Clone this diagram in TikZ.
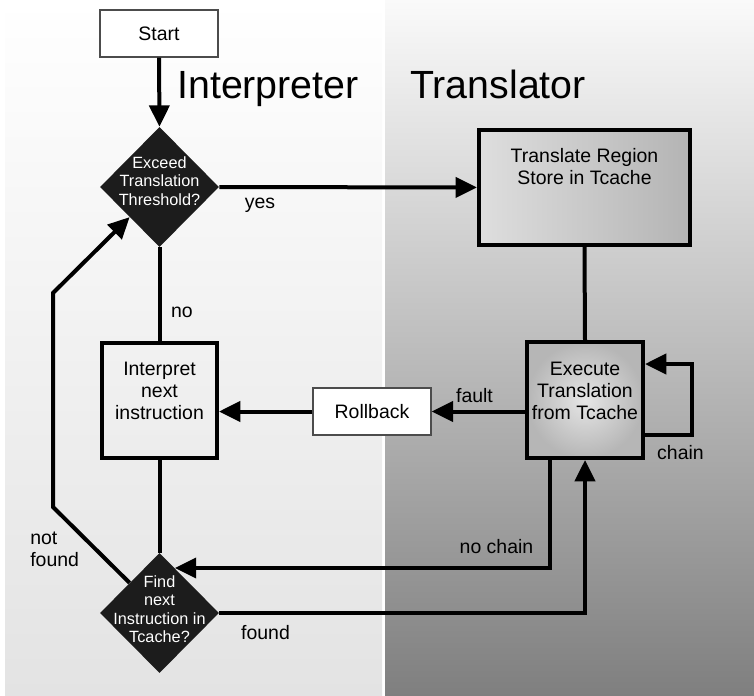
\documentclass[tikz,border=0pt]{standalone}
\usepackage{fontspec}
\setmainfont{Liberation Sans}
\usetikzlibrary{arrows.meta,shapes.geometric}
\definecolor{decfill}{HTML}{1C1C1C}
\definecolor{leftbot}{HTML}{E3E3E3}
\definecolor{righttop}{HTML}{FAFAFA}
\definecolor{rightbot}{HTML}{7F7F7F}
\begin{document}
\begin{tikzpicture}[x=0.75pt,y=-0.75pt,
  conn/.style={line width=3pt, line join=miter},
  arr/.style={conn, -{Triangle[length=16pt,width=15pt]}},
  lbl/.style={font=\fontsize{14.6}{16.5}\selectfont, inner sep=0pt},
  thinbox/.style={draw=black!70, line width=1pt, fill=white, minimum width=88.5pt,
    minimum height=35.25pt, inner sep=0pt, font=\fontsize{14.6}{16.5}\selectfont},
  heavybox/.style={draw=black, line width=3pt, inner sep=0pt},
  decision/.style={diamond, fill=decfill, minimum width=89.25pt, minimum height=90pt,
    inner sep=0pt},
  dtext/.style={text=white, align=center, font=\fontsize{12.2}{13.9}\selectfont, inner sep=0pt},
  btext/.style={align=center, font=\fontsize{14.6}{16.5}\selectfont, inner sep=0pt},
  title/.style={font=\fontsize{29.5}{32}\selectfont, inner sep=0pt, anchor=base west}]

\useasboundingbox (0,0) rectangle (754,696);

% two lanes
\shade[top color=white, bottom color=leftbot] (5,0) rectangle (382,696);
\shade[top color=righttop, bottom color=rightbot] (385,0) rectangle (754,696);

\node[title] (lanei) at (177,98) {Interpreter};
\node[title] (lanet) at (410,98) {Translator};

% nodes
\node[thinbox] (start) at (159,33.5) {Start};
\node[decision] (d1) at (159.5,187) {};
\node[dtext] (d1t) at (159.5,181) {Exceed\\Translation\\Threshold?};

\node[heavybox, minimum width=158.25pt, minimum height=86.25pt,
      left color={rgb,255:red,222;green,222;blue,222},
      right color={rgb,255:red,180;green,180;blue,180}] (tr) at (584.5,187.5) {};
\node[btext] (trt) at (584.5,167) {Translate Region\\Store in Tcache};

\node[heavybox, minimum width=87pt, minimum height=87pt,
      inner color={rgb,255:red,230;green,230;blue,230},
      outer color={rgb,255:red,182;green,182;blue,182}] (ex) at (585,400) {};
\node[btext] (ext) at (585,391) {Execute\\Translation\\from Tcache};

\node[thinbox] (rb) at (372,411.5) {Rollback};

\node[heavybox, minimum width=86.25pt, minimum height=86.25pt] (ip) at (159.5,400.5) {};
\node[btext] (ipt) at (159.5,391) {Interpret\\next\\instruction};

\node[decision] (d2) at (159.5,613) {};
\node[dtext] (d2t) at (159.5,609) {Find\\next\\Instruction in\\Tcache?};

% connectors
\draw[arr] (start.south) -- (d1.north);
\draw[arr] (d1.east) -- (tr.west);
\node[lbl] (yes) at (260,205) {yes};

\draw[conn] (tr.south) -- (ex.north);

\coordinate (ch1) at (692,435);
\coordinate (ch2) at (692,364);
\draw[arr] (ch1 -| ex.east) -- (ch1) -- (ch2) -- (ch2 -| ex.east);
\node[lbl] (chain) at (680.5,452.5) {chain};

\draw[arr] (ex.west |- rb.east) -- (rb.east);
\node[lbl] (fault) at (474.5,395.5) {fault};

\draw[arr] (rb.west) -- (rb.west -| ip.east);

\draw[conn] (d1.south) -- (ip.north);
\node[lbl] (no) at (182,312) {no};

\draw[conn] (ip.south) -- (d2.north);

\coordinate (nc) at (550,568);
\draw[arr] (nc |- ex.south) -- (nc) -- (nc -| d2.71.7);
\node[lbl] (nochain) at (496.5,547) {no chain};

\draw[arr] (d2.east) -| (ex.south);
\node[lbl] (found) at (265.5,632.5) {found};

\coordinate (nf1) at (53,507);
\coordinate (nf2) at (53,293);
\draw[arr] (d2.north west) -- (nf1) -- (nf2) -- (d1.south west);
\node[lbl, align=left, anchor=west] (notfound) at (30,549) {not\\found};

\end{tikzpicture}
\end{document}
